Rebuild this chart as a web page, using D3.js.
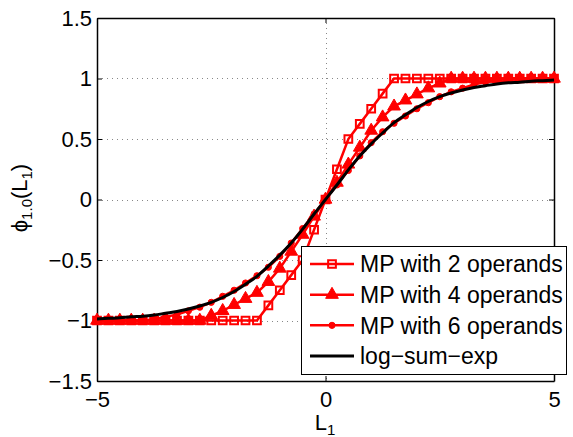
<!DOCTYPE html>
<html>
<head>
<meta charset="utf-8">
<script src="https://cdn.jsdelivr.net/npm/d3@7"></script>
<style>
body { margin: 0; background: #fff; }
text { font-family: "Liberation Sans", Arial, sans-serif; }
</style>
</head>
<body>
<script>
// x positions of the samples
var xs = [-5, -4.75, -4.5, -4.25, -4, -3.75, -3.5, -3.25, -3, -2.75, -2.5, -2.25, -2, -1.75, -1.5, -1.25, -1, -0.75, -0.5, -0.25,
	0, 0.25, 0.5, 0.75, 1, 1.25, 1.5, 1.75, 2, 2.25, 2.5, 2.75, 3, 3.25, 3.5, 3.75, 4, 4.25, 4.5, 4.75, 5];

var mp2 = [-1, -1, -1, -1, -1, -1, -1, -1, -1, -1, -1, -1, -1, -1, -1, -0.875, -0.75, -0.625, -0.5, -0.25,
	0, 0.25, 0.5, 0.625, 0.75, 0.875, 1, 1, 1, 1, 1, 1, 1, 1, 1, 1, 1, 1, 1, 1, 1];

var mp4 = [-1, -1, -1, -1, -1, -1, -1, -1, -1, -1, -0.96, -0.92, -0.87, -0.82, -0.77, -0.68, -0.57, -0.43, -0.29, -0.14,
	0, 0.14, 0.29, 0.43, 0.57, 0.68, 0.77, 0.82, 0.87, 0.92, 0.96, 1, 1, 1, 1, 1, 1, 1, 1, 1, 1];

var mp6 = [-1, -1, -1, -1, -1, -0.99, -0.97, -0.95, -0.92, -0.89, -0.85, -0.8, -0.75, -0.69, -0.63, -0.56, -0.47, -0.36, -0.24, -0.12,
	0, 0.12, 0.24, 0.36, 0.47, 0.56, 0.63, 0.69, 0.75, 0.8, 0.85, 0.89, 0.92, 0.95, 0.97, 0.99, 1, 1, 1, 1, 1];

var lse = [-0.987, -0.982, -0.978, -0.97, -0.965, -0.955, -0.94, -0.925, -0.905, -0.88, -0.85, -0.81, -0.76, -0.7, -0.635, -0.55, -0.46, -0.36, -0.245, -0.12,
	0, 0.12, 0.245, 0.36, 0.46, 0.55, 0.635, 0.7, 0.76, 0.81, 0.85, 0.88, 0.905, 0.925, 0.94, 0.955, 0.965, 0.97, 0.978, 0.982, 0.987];

var xTicks = [-5, 0, 5];
var yTicks = [-1.5, -1, -0.5, 0, 0.5, 1, 1.5];
var legendNames = ["MP with 2 operands", "MP with 4 operands", "MP with 6 operands", "log\u2212sum\u2212exp"];

var w = 573;
var h = 437;
var padL = 97, padR = 554, padT = 18, padB = 381;

var svg = d3.select("body")
			.append("svg")
			.attr("width", w)
			.attr("height", h);

var xScale = d3.scaleLinear()
					.domain([-5, 5])
					.range([padL, padR]);

var yScale = d3.scaleLinear()
					.domain([-1.5, 1.5])
					.range([padB, padT]);

var fmt = d3.format("");

// dotted grid
var grid = svg.append("g")
	.attr("stroke", "#888")
	.attr("stroke-width", 1)
	.attr("stroke-dasharray", "1,4");
grid.selectAll(".gy")
	.data(yTicks.slice(1, -1))
	.enter()
	.append("line")
	.attr("x1", padL)
	.attr("x2", padR)
	.attr("y1", function(d){ return Math.round(yScale(d)) + 0.5; })
	.attr("y2", function(d){ return Math.round(yScale(d)) + 0.5; });
grid.selectAll(".gx")
	.data(xTicks.slice(1, -1))
	.enter()
	.append("line")
	.attr("y1", padT)
	.attr("y2", padB)
	.attr("x1", function(d){ return Math.round(xScale(d)) + 0.5; })
	.attr("x2", function(d){ return Math.round(xScale(d)) + 0.5; });

// axes, ticks inside like matlab
var xAxis = d3.axisBottom(xScale).tickValues(xTicks).tickFormat(fmt).tickSizeInner(-5).tickSizeOuter(0).tickPadding(10);
var yAxis = d3.axisLeft(yScale).tickValues(yTicks).tickFormat(fmt).tickSizeInner(-5).tickSizeOuter(0).tickPadding(5);
var xTop = d3.axisTop(xScale).tickValues(xTicks).tickFormat("").tickSizeInner(-5).tickSizeOuter(0);
var yRight = d3.axisRight(yScale).tickValues(yTicks).tickFormat("").tickSizeInner(-5).tickSizeOuter(0);

svg.append("g")
	.attr("class", "axis")
	.attr("transform", "translate(0," + padB + ")")
	.call(xAxis);
svg.append("g")
	.attr("class", "axis")
	.attr("transform", "translate(" + padL + ",0)")
	.call(yAxis);
svg.append("g")
	.attr("class", "axis")
	.attr("transform", "translate(0," + padT + ")")
	.call(xTop);
svg.append("g")
	.attr("class", "axis")
	.attr("transform", "translate(" + padR + ",0)")
	.call(yRight);

svg.selectAll(".axis path").attr("stroke", "#000").attr("stroke-width", 1.5);
svg.selectAll(".axis line").attr("stroke", "#000");
svg.selectAll(".axis text")
	.attr("fill", "#000")
	.style("font-size", "22px")
	.style("font-family", "Liberation Sans, Arial, sans-serif");

// series
var line = d3.line()
	.x(function(d){ return xScale(d[0]); })
	.y(function(d){ return yScale(d[1]); });

function pairs(vals){
	return xs.map(function(x, i){ return [x, vals[i]]; });
}

var plot = svg.append("g");

function drawSeries(vals, marker){
	var pts = pairs(vals);
	plot.append("path")
		.datum(pts)
		.attr("d", line)
		.attr("fill", "none")
		.attr("stroke", "#f00")
		.attr("stroke-width", 2.5);
	var sym = plot.selectAll(null)
		.data(pts)
		.enter()
		.append("path")
		.attr("transform", function(d){ return "translate(" + xScale(d[0]) + "," + yScale(d[1]) + ")"; });
	styleMarker(sym, marker);
}

function styleMarker(sel, marker){
	if(marker == "square"){
		sel.attr("d", d3.symbol(d3.symbolSquare, 60)())
			.attr("fill", "none")
			.attr("stroke", "#f00")
			.attr("stroke-width", 2);
	} else if(marker == "triangle"){
		sel.attr("d", d3.symbol(d3.symbolTriangle, 70)())
			.attr("fill", "#f00")
			.attr("stroke", "#f00")
			.attr("stroke-width", 1);
	} else {
		sel.attr("d", d3.symbol(d3.symbolCircle, 30)())
			.attr("fill", "#f00")
			.attr("stroke", "#f00")
			.attr("stroke-width", 1);
	}
}

drawSeries(mp2, "square");
drawSeries(mp4, "triangle");
drawSeries(mp6, "circle");

plot.append("path")
	.datum(pairs(lse))
	.attr("d", line.curve(d3.curveMonotoneX))
	.attr("fill", "none")
	.attr("stroke", "#000")
	.attr("stroke-width", 3);

// axis labels
var ylab = svg.append("text")
	.attr("transform", "translate(27,198) rotate(-90)")
	.attr("text-anchor", "middle")
	.style("font-size", "22px");
ylab.append("tspan").text("\u03d5");
ylab.append("tspan").attr("dy", 5).style("font-size", "15px").text("1.0");
ylab.append("tspan").attr("dy", -5).text("(L");
ylab.append("tspan").attr("dy", 5).style("font-size", "15px").text("1");
ylab.append("tspan").attr("dy", -5).text(")");

var xlab = svg.append("text")
	.attr("x", 325)
	.attr("y", 430)
	.attr("text-anchor", "middle")
	.style("font-size", "22px");
xlab.append("tspan").text("L");
xlab.append("tspan").attr("dy", 5).style("font-size", "15px").text("1");

// legend
var legend = svg.append("g");
legend.append("rect")
	.attr("x", 301.5)
	.attr("y", 246.5)
	.attr("width", 265)
	.attr("height", 128)
	.attr("fill", "#fff")
	.attr("stroke", "#000")
	.attr("stroke-width", 1);

var rowY = d3.scaleLinear().domain([0, 3]).range([264, 356]);
var markers = ["square", "triangle", "circle", null];

legendNames.forEach(function(name, i){
	var y = rowY(i);
	legend.append("line")
		.attr("x1", 310)
		.attr("x2", 354)
		.attr("y1", y)
		.attr("y2", y)
		.attr("stroke", i < 3 ? "#f00" : "#000")
		.attr("stroke-width", i < 3 ? 2.5 : 3);
	if(markers[i]){
		var m = legend.append("path")
			.attr("transform", "translate(332," + y + ")");
		styleMarker(m, markers[i]);
	}
	legend.append("text")
		.attr("x", 360)
		.attr("y", y)
		.attr("dy", "0.36em")
		.style("font-size", "23px")
		.text(name);
});
</script>
</body>
</html>
